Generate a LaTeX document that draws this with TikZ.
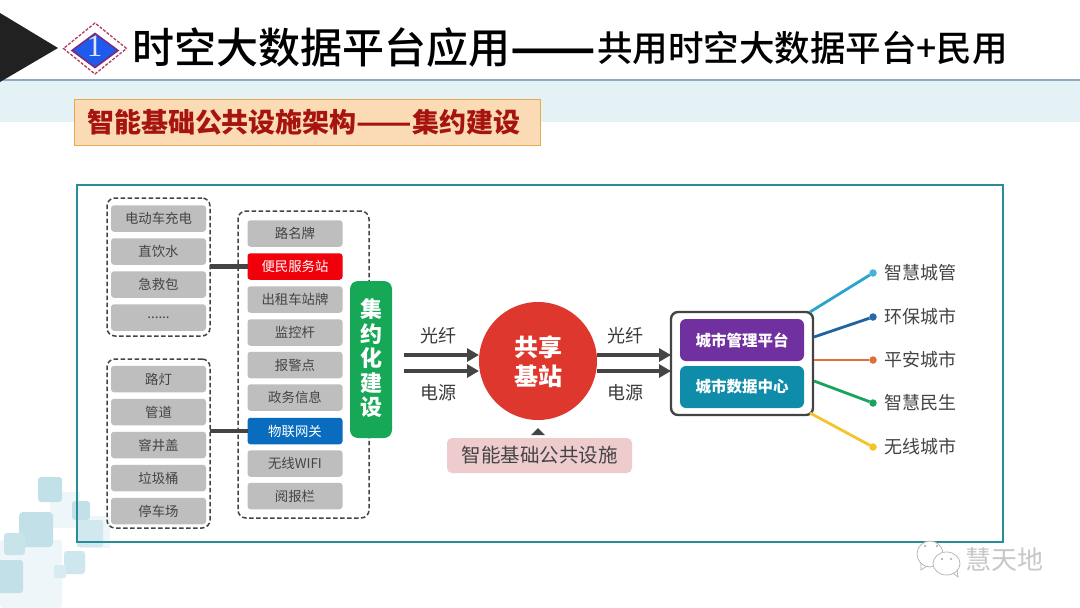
\documentclass[tikz,border=0pt]{standalone}
\usepackage{fontspec}
\usepackage{graphicx}
\setmainfont{Noto Sans CJK SC}
\newfontfamily\medfont{Noto Sans CJK SC}[UprightFont=* Medium]
\usetikzlibrary{calc,arrows.meta,shapes.geometric}
\newcommand{\fs}[1]{\fontsize{#1}{#1}\selectfont}
\definecolor{ink}{HTML}{444444}
\definecolor{itemgrey}{HTML}{BEBEBE}
\definecolor{frameteal}{HTML}{2A8C96}
\definecolor{bandblue}{HTML}{E4F2F6}
\definecolor{bandline}{HTML}{8FA9C4}
\definecolor{sq}{HTML}{C2E0E8}
\definecolor{sqpale}{HTML}{EEF6F9}
\tikzset{
  every node/.append style={outer sep=0pt},
  item/.style={draw=none,fill=itemgrey,rounded corners=3pt,minimum width=95pt,minimum height=26.5pt,inner sep=0pt,text=ink,font=\fs{13.4}},
  hot/.style={item,text=white},
  group/.style={draw=ink,line width=1.5pt,dash pattern=on 4.5pt off 2.5pt,rounded corners=8pt,inner sep=0pt,anchor=north west},
  link/.style={draw=ink,line width=4.5pt},
  fat/.style={draw=ink,line width=4.5pt,-{Triangle[length=12pt,width=13pt]}},
  lab/.style={text=ink!85!black,font=\fs{18},inner sep=0pt},
  city/.style={text=ink,font=\fs{18},inner sep=0pt,anchor=west},
  dotnode/.style={circle,inner sep=0pt,minimum size=7.5pt},
  ray/.style={line width=2.8pt},
  plat/.style={rounded corners=6pt,minimum width=124pt,minimum height=42pt,inner sep=0pt,text=white,font=\fs{15.5}\bfseries}
}
\begin{document}
\begin{tikzpicture}[x=1pt,y=-1pt]
\useasboundingbox (0,0) rectangle (1080,608);
\fill[white] (0,0) rectangle (1080,608);
% header band
\fill[bandblue] (0,81) rectangle (1080,122);
\draw[color=bandline,line width=2pt] (0,80) -- (1080,80);
\fill[black!87] (0,13) -- (58,48) -- (0,82) -- cycle;
% decorative squares
\fill[sqpale] (50,492) rectangle (80,528);
\fill[sqpale,rounded corners=3pt] (0,540) rectangle (62,608);
\fill[sqpale] (80,516) rectangle (110,548);
\fill[sq,rounded corners=3pt] (38,477) rectangle (62,502);
\fill[sq,rounded corners=3pt] (72,501) rectangle (90,520);
\fill[sq!75,rounded corners=2pt] (77,520) rectangle (103,547);
\fill[sq,rounded corners=4pt] (19,512) rectangle (53,547);
\fill[sq!90,rounded corners=3pt] (4,533) rectangle (25,555);
\fill[sq,rounded corners=3pt] (-3,560) rectangle (23,593);
\fill[sq!80,rounded corners=3pt] (64,551) rectangle (85,574);
\fill[sq!65,rounded corners=2pt] (54,565) rectangle (66,578);
% badge
\node[diamond,draw={rgb,255:red,176;green,60;blue,96},line width=1.3pt,dash pattern=on 3pt off 1.5pt,fill=white,aspect=1.25,minimum width=63pt,minimum height=51pt,inner sep=0pt] (badgeo) at (95,48.5) {};
\node[diamond,draw={rgb,255:red,122;green,42;blue,128},line width=1.6pt,fill={rgb,255:red,30;green,90;blue,235},aspect=1.34,minimum width=46pt,minimum height=34pt,inner sep=0pt] (badgei) at (95,50.5) {};
\node[text=white!90!blue,inner sep=0pt] (badgen) at (94.5,46) {\fontspec{Liberation Serif}\fs{31}1};
% title
\node[anchor=west,inner sep=0pt,font=\fs{42}\medfont,text=black] (title) at (132,47) {时空大数据平台应用};
\node[anchor=base west,inner sep=0pt,font=\fs{42}\bfseries,text=black] (tdash) at (title.base east) {\scalebox{1.19}[1]{——}};
\node[anchor=west,inner sep=0pt,font=\fs{35.5}\medfont,text=black] (title2) at (597,48) {共用时空大数据平台+民用};
% subtitle
\node[draw={rgb,255:red,232;green,170;blue,80},line width=1pt,fill={rgb,255:red,251;green,218;blue,182},minimum width=466pt,minimum height=46pt,inner sep=0pt,anchor=north west] (sub) at (74,99) {};
\node[anchor=west,inner sep=0pt,text={rgb,255:red,165;green,20;blue,15},font=\fs{27}\bfseries] (subt) at (87,122) {智能基础公共设施架构\scalebox{1.2}[1]{——}集约建设};
% frame
\node[draw=frameteal,line width=1.5pt,minimum width=926pt,minimum height=357pt,inner sep=0pt,anchor=north west] (frame) at (77,185) {};
% groups
\node[group,minimum width=103pt,minimum height=138pt] (g1) at (107,198) {};
\node[group,minimum width=103pt,minimum height=169pt] (g2) at (107,359) {};
\node[group,minimum width=131pt,minimum height=307pt] (g3) at (238,211) {};
% left items
\node[item] (a1) at (158.5,218.5) {电动车充电};
\node[item] (a2) at (158.5,251.5) {直饮水};
\node[item] (a3) at (158.5,284.5) {急救包};
\node[item] (a4) at (158.5,317.5) {......};
\node[item] (b1) at (158.5,379) {路灯};
\node[item] (b2) at (158.5,412) {管道};
\node[item] (b3) at (158.5,445) {窨井盖};
\node[item] (b4) at (158.5,478) {垃圾桶};
\node[item] (b5) at (158.5,511) {停车场};
% middle items
\node[item] (c1) at (295,233.5) {路名牌};
\node[hot,fill={rgb,255:red,240;green,0;blue,10}] (c2) at (295,266.5) {便民服务站};
\node[item] (c3) at (295,299.5) {出租车站牌};
\node[item] (c4) at (295,332.5) {监控杆};
\node[item] (c5) at (295,365) {报警点};
\node[item] (c6) at (295,397.5) {政务信息};
\node[hot,fill={rgb,255:red,10;green,108;blue,190}] (c7) at (295,431) {物联网关};
\node[item] (c8) at (295,463.5) {无线WIFI};
\node[item] (c9) at (295,496) {阅报栏};
% links
\draw[link] (g1.east |- c2.west) -- (c2.west);
\draw[link] (g2.east |- c7.west) -- (c7.west);
% green bar
\node[fill={rgb,255:red,22;green,168;blue,86},rounded corners=8pt,minimum width=42pt,minimum height=157pt,inner sep=0pt,anchor=north west] (bar) at (350,281) {};
\node[text=white,font=\fontsize{22}{24.5}\selectfont\bfseries,align=center,inner sep=0pt] (bart) at (371,358.5) {集\\约\\化\\建\\设};
% hub
\node[circle,fill={rgb,255:red,222;green,56;blue,46},minimum size=118pt,inner sep=0pt] (hub) at (538,361) {};
\node[text=white,font=\fontsize{24}{29}\selectfont\bfseries,align=center,inner sep=0pt] (hubt) at (538,361.5) {共享\\基站};
% city box
\node[draw=ink,line width=2.4pt,fill=white,rounded corners=7pt,minimum width=142pt,minimum height=103pt,inner sep=0pt,anchor=north west] (citybox) at (671,312) {};
\node[plat,fill={rgb,255:red,112;green,48;blue,160}] (p1) at (742,340) {城市管理平台};
\node[plat,fill={rgb,255:red,14;green,140;blue,170}] (p2) at (742,387) {城市数据中心};
% arrows
\coordinate (i1) at (404,355);
\coordinate (i2) at (404,371);
\coordinate (o1) at (597,355);
\coordinate (o2) at (597,371);
\draw[fat] (i1) -- (hub.west |- i1);
\draw[fat] (i2) -- (hub.west |- i2);
\draw[fat] (o1) -- (citybox.west |- o1);
\draw[fat] (o2) -- (citybox.west |- o2);
\node[lab] (l1) at (438,336) {光纤};
\node[lab] (l2) at (438,393) {电源};
\node[lab] (l3) at (625,336) {光纤};
\node[lab] (l4) at (625,393) {电源};
% infrastructure
\node[fill={rgb,255:red,238;green,204;blue,206},rounded corners=5pt,minimum width=185pt,minimum height=35pt,inner sep=0pt,text=ink,font=\fs{19.5}] (infra) at (539.5,455.5) {智能基础公共设施};
\fill[ink] (531,435) -- (538,428) -- (545,435) -- cycle;
% rays
\node[dotnode,fill={rgb,255:red,70;green,178;blue,220}] (d1) at (873,273) {};
\node[dotnode,fill={rgb,255:red,38;green,105;blue,170}] (d2) at (873,317) {};
\node[dotnode,fill={rgb,255:red,224;green,110;blue,56}] (d3) at (873,360) {};
\node[dotnode,fill={rgb,255:red,26;green,163;blue,92}] (d4) at (873,403) {};
\node[dotnode,fill={rgb,255:red,244;green,196;blue,40}] (d5) at (873,447) {};
\draw[ray,color={rgb,255:red,40;green,165;blue,205}] ($(citybox.north east)+(-3,0)$) -- (d1);
\draw[ray,color={rgb,255:red,30;green,100;blue,160}] ($(citybox.east)+(1,-26.5)$) -- (d2);
\draw[ray,color={rgb,255:red,224;green,110;blue,56}] ($(citybox.east)+(1,-3.5)$) -- (d3);
\draw[ray,color={rgb,255:red,26;green,163;blue,92}] ($(citybox.east)+(1,17.5)$) -- (d4);
\draw[ray,color={rgb,255:red,244;green,196;blue,40}] ($(citybox.south east)+(-3,-2)$) -- (d5);
\node[city] (t1) at (884,273) {智慧城管};
\node[city] (t2) at (884,317) {环保城市};
\node[city] (t3) at (884,360) {平安城市};
\node[city] (t4) at (884,403) {智慧民生};
\node[city] (t5) at (884,447) {无线城市};
% watermark
\draw[black!30,line width=.7pt,fill=white] (930,554) ellipse (13pt and 13pt);
\draw[black!30,line width=.7pt] (921,563) -- (921,570) -- (927,566);
\draw[black!30,line width=.7pt,fill=white] (946.5,563.5) ellipse (13.5pt and 11.5pt);
\draw[black!30,line width=.7pt] (953,573) -- (958,577) -- (957,570);
\fill[black!35] (925,546) circle (1.1pt) (937,546) circle (1.1pt) (942,559) circle (1.1pt) (951,559) circle (1.1pt);
\node[anchor=west,inner sep=0pt,text=black!22,font=\fs{26}] (wm) at (965,560) {慧天地};
\end{tikzpicture}
\end{document}
